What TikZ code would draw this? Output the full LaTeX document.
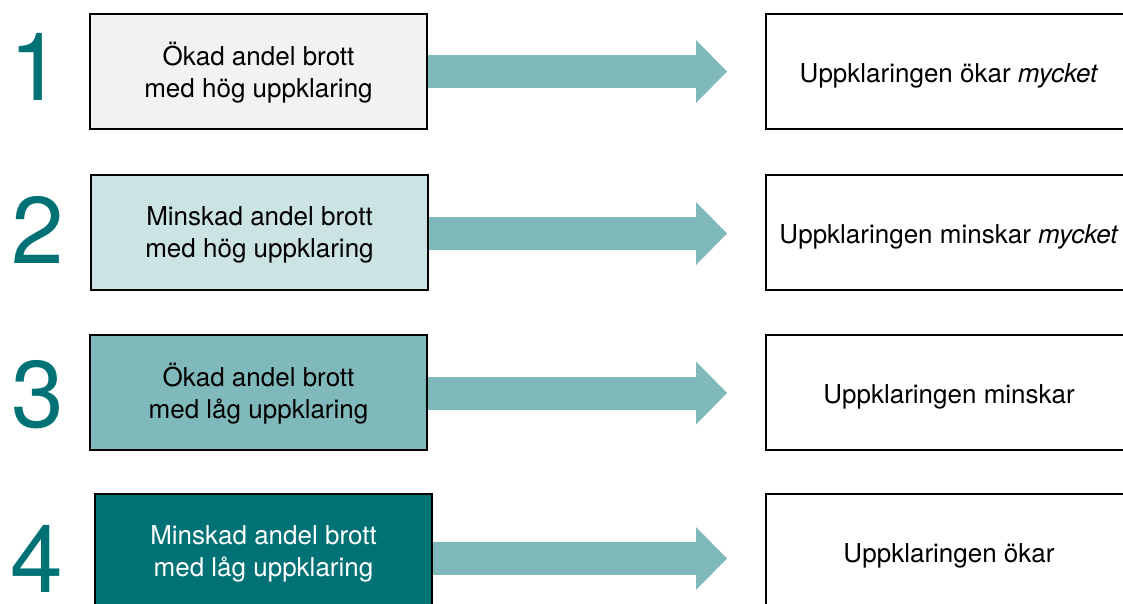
\documentclass[tikz,border=0pt]{standalone}
\usepackage{fontspec}
\setmainfont{TeX Gyre Heros}
\usetikzlibrary{arrows.meta,calc}
\definecolor{tealdark}{RGB}{0,114,118}
\definecolor{teallight}{RGB}{128,185,187}
\definecolor{tealpale}{RGB}{204,227,228}
\definecolor{greybox}{RGB}{242,242,242}
\newcommand{\twolinetext}[2]{\raisebox{-2pt}[\height][\depth]{\begin{tabular}{@{}c@{}}#1\\#2\end{tabular}}}
\newcommand{\onelinetext}[1]{\raisebox{-3pt}[\height][\depth]{#1}}
\tikzset{
  boxbase/.style={draw=black, line width=1.5pt, inner sep=0pt, align=center,
    font=\fontsize{19.5}{24}\selectfont},
  lbox/.style={boxbase, minimum width=252.75pt, minimum height=86.25pt},
  rbox/.style={boxbase, fill=white, minimum width=274.5pt, minimum height=86.25pt},
  num/.style={anchor=base, text=tealdark, inner sep=0pt, font=\fontsize{71}{71}\selectfont},
  flow/.style={draw=teallight, line width=24.75pt,
    -{Triangle[length=23.25pt, width=47.25pt, line width=0pt]}}
}
\begin{document}
\begin{tikzpicture}[x=0.75pt,y=-0.75pt]
\useasboundingbox (0,0) rectangle (1123,603);
\clip (0,0) rectangle (1123,603);
\fill[white] (0,0) rectangle (1123,603);

% numbers
\node[num] (n1) at (36,100) {1};
\node[num] (n2) at (38,263) {2};
\node[num] (n3) at (38,427) {3};
\node[num] (n4) at (37,592) {4};

% left boxes
\node[lbox, fill=greybox] (b1) at (258.5,71.5) {\twolinetext{Ökad andel brott}{med hög uppklaring}};
\node[lbox, fill=tealpale] (b2) at (259.5,232.5) {\twolinetext{Minskad andel brott}{med hög uppklaring}};
\node[lbox, fill=teallight] (b3) at (258.5,392.5) {\twolinetext{Ökad andel brott}{med låg uppklaring}};
\node[lbox, fill=tealdark, text=white] (b4) at (263.5,551.5) {\twolinetext{Minskad andel brott}{med låg uppklaring}};

% right boxes
\node[rbox] (r1) at (949,71.5) {\onelinetext{Uppklaringen ökar \textit{mycket}}};
\node[rbox] (r2) at (949,232.5) {\onelinetext{Uppklaringen minskar \textit{mycket}}};
\node[rbox] (r3) at (949,392.5) {\onelinetext{Uppklaringen minskar}};
\node[rbox] (r4) at (949,551.5) {\onelinetext{Uppklaringen ökar}};

% arrows
\coordinate (e1) at ($(r1.west)+(-38,0)$);
\coordinate (e2) at ($(r2.west)+(-38,1)$);
\coordinate (s2) at ($(b2.east)+(0,1)$);
\coordinate (e3) at ($(r3.west)+(-38,0.5)$);
\coordinate (s3) at ($(b3.east)+(0,0.5)$);
\coordinate (s4) at ($(b4.east)+(0,7)$);
\coordinate (e4) at ($(r4.west)+(-38,7)$);
\draw[flow] (b1.east) -- (e1);
\draw[flow] (s2) -- (e2);
\draw[flow] (s3) -- (e3);
\draw[flow] (s4) -- (e4);
\end{tikzpicture}
\end{document}
